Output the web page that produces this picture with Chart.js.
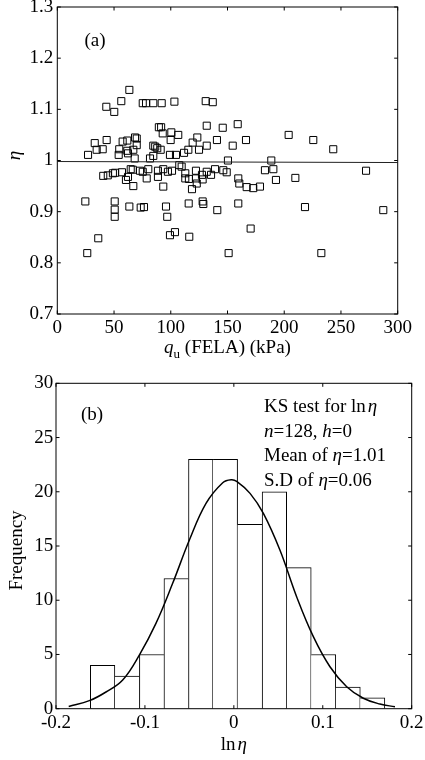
<!DOCTYPE html>
<html><head><meta charset="utf-8">
<script src="https://cdn.jsdelivr.net/npm/chart.js@4.4.1/dist/chart.umd.min.js"></script>
<style>
html,body{margin:0;padding:0;background:#fff;}
body{width:425px;height:760px;position:relative;overflow:hidden;font-family:"Liberation Serif","Times New Roman",serif;color:#000;}
canvas{position:absolute;left:0;}
#c1{top:0;} #c2{top:370px;}
.t{position:absolute;font-size:19px;line-height:19px;white-space:nowrap;}
.ks{position:absolute;left:264px;top:394.3px;font-size:19px;line-height:24.5px;white-space:nowrap;}
.rot{position:absolute;font-size:19px;line-height:19px;height:19px;text-align:center;white-space:nowrap;transform:rotate(-90deg);}
sub{font-size:13px;line-height:0;vertical-align:-5px;}
</style>
</head><body>
<canvas id="c1" width="425" height="370"></canvas>
<canvas id="c2" width="425" height="390"></canvas>

<div class="t" style="left:84.5px;top:29.6px;">(a)</div>
<div class="t" style="left:57.3px;width:340.4px;top:336.7px;text-align:center;"><i>q</i><sub>u</sub> (FELA) (kPa)</div>
<div class="rot" style="left:2.5px;width:20px;top:145.5px;"><i>η</i></div>

<div class="t" style="left:81px;top:404px;">(b)</div>
<div class="ks">KS test for ln<span style="margin-left:2px"><i>η</i></span><br><i>n</i>=128, <i>h</i>=0<br>Mean of <i>η</i>=1.01<br>S.D of <i>η</i>=0.06</div>
<div class="t" style="left:56px;width:355.7px;top:734px;text-align:center;">ln<span style="margin-left:2px"><i>η</i></span></div>
<div class="rot" style="left:-35.4px;width:100px;top:540.5px;">Frequency</div>

<script>
// ---- Panel (a): scatter data ----
const qu = [43.2,50.2,56.4,63.5,75.3,78.2,84.6,92.0,103.2,130.8,137.0,
  89.5,91.5,131.7,145.8,159.0,92.9,100.5,106.6,203.9,225.6,243.2,166.3,140.7,123.4,99.9,68.5,70.0,61.7,57.6,43.5,33.0,34.7,40.0,27.1,54.6,54.1,61.7,70.0,67.0,62.3,68.2,84.6,88.1,91.1,84.6,81.7,99.3,104.6,111.7,115.5,119.3,124.9,131.7,154.6,150.4,188.6,86.3,
  40.5,44.5,49.0,51.0,60.5,62.3,64.7,66.5,67.0,72.9,75.3,78.8,80.2,88.7,88.7,93.4,93.4,101.1,107.5,109.6,112.8,112.8,116.0,118.7,122.2,122.2,122.9,127.5,128.1,131.7,139.0,146.3,149.3,159.5,160.4,166.9,172.7,178.6,183.0,190.4,192.7,209.8,272.1,287.3,
  24.7,50.6,50.6,50.6,63.5,73.5,76.4,95.8,96.9,115.8,128.1,128.7,141.0,159.5,218.3,170.4,99.3,103.7,116.3,36.1,26.4,151.0,232.7,
  57.0,97.5,135.5];
const eta = [1.105,1.095,1.116,1.138,1.112,1.112,1.112,1.112,1.115,1.116,1.114,
  1.065,1.065,1.068,1.064,1.071,1.053,1.055,1.050,1.050,1.040,1.022,1.040,1.040,1.045,1.040,1.045,1.043,1.039,1.037,1.040,1.034,1.021,1.022,1.011,1.022,1.011,1.019,1.030,1.021,1.014,1.004,1.029,1.024,1.021,1.009,1.004,1.011,1.011,1.015,1.021,1.035,1.021,1.029,1.029,1.000,1.000,1.027,
  0.970,0.971,0.975,0.976,0.962,0.968,0.983,0.982,0.950,0.980,0.978,0.965,0.983,0.980,0.968,0.983,0.949,0.980,0.991,0.988,0.975,0.965,0.964,0.944,0.980,0.965,0.955,0.972,0.963,0.978,0.983,0.981,0.977,0.965,0.955,0.948,0.946,0.949,0.981,0.983,0.962,0.966,0.980,0.903,
  0.920,0.920,0.904,0.890,0.910,0.908,0.909,0.910,0.890,0.916,0.920,0.915,0.903,0.916,0.909,0.867,0.854,0.860,0.851,0.848,0.819,0.819,0.819,
  0.977,0.978,0.972];
const refLineX = [0, 300];
const refLineY = [0.998, 0.996];
const quTicks = [0,50,100,150,200,250,300];
const etaTicks = [0.7,0.8,0.9,1,1.1,1.2,1.3];

// ---- Panel (b): histogram data ----
const binCenters = [-0.1476,-0.1200,-0.0924,-0.0648,-0.0372,-0.0096,0.0180,0.0456,0.0732,0.1008,0.1284,0.1560];
const counts = [4,3,5,12,23,23,17,20,13,5,2,1];
const curveX = [-0.1857,-0.1625,-0.1438,-0.125,-0.1063,-0.0876,-0.0688,-0.050,-0.0313,-0.0125,-0.003,0.0032,0.0182,0.0332,0.0519,0.0707,0.0894,0.1081,0.1269,0.1456,0.1643,0.1812];
const curveY = [0.2,0.74,1.54,2.65,4.95,7.87,11.56,15.55,18.93,20.83,21.1,20.95,19.85,18.0,14.6,10.3,6.64,3.87,2.03,0.96,0.43,0.18];
const lnTicks = [-0.2,-0.1,0,0.1,0.2];
const freqTicks = [0,5,10,15,20,25,30];

Chart.defaults.font.family = '"Liberation Serif","Times New Roman",serif';
Chart.defaults.font.size = 19;
Chart.defaults.color = '#000';
Chart.defaults.animation = false;

const framePlugin = {
  id: 'frame',
  afterDatasetsDraw(chart) {
    const {ctx, chartArea: a, scales} = chart;
    const L = 3.5;
    ctx.save();
    ctx.strokeStyle = '#000';
    ctx.lineWidth = 1;
    ctx.strokeRect(a.left, a.top, a.right - a.left, a.bottom - a.top);
    ctx.beginPath();
    scales.x.ticks.forEach(t => {
      const p = scales.x.getPixelForValue(t.value);
      ctx.moveTo(p, a.bottom); ctx.lineTo(p, a.bottom - L);
      ctx.moveTo(p, a.top); ctx.lineTo(p, a.top + L);
    });
    scales.y.ticks.forEach(t => {
      const p = scales.y.getPixelForValue(t.value);
      ctx.moveTo(a.left, p); ctx.lineTo(a.left + L, p);
      ctx.moveTo(a.right, p); ctx.lineTo(a.right - L, p);
    });
    ctx.stroke();
    ctx.restore();
  }
};

function xScale(min, max, tickVals, h, pad) {
  return {
    type: 'linear', min, max, offset: false,
    grid: {display: false, drawTicks: false}, border: {display: false},
    afterBuildTicks: s => { s.ticks = tickVals.map(v => ({value: v})); },
    ticks: {padding: pad, maxRotation: 0, autoSkip: false, callback: v => String(v)},
    afterFit: s => { s.height = h; s.paddingLeft = 0; s.paddingRight = 0; }
  };
}
function yScale(min, max, tickVals, w, pad) {
  return {
    type: 'linear', min, max,
    grid: {display: false, drawTicks: false}, border: {display: false},
    afterBuildTicks: s => { s.ticks = tickVals.map(v => ({value: v})); },
    ticks: {padding: pad, autoSkip: false, callback: v => String(v)},
    afterFit: s => { s.width = w; s.paddingTop = 0; s.paddingBottom = 0; }
  };
}

new Chart(document.getElementById('c1'), {
  type: 'scatter',
  data: {
    datasets: [
      {
        type: 'line',
        data: refLineX.map((x, i) => ({x, y: refLineY[i]})),
        borderColor: '#222', borderWidth: 1, pointRadius: 0, fill: false, order: 0
      },
      {
        data: qu.map((x, i) => ({x, y: eta[i]})),
        pointStyle: 'rect', pointRadius: 5, borderWidth: 1,
        borderColor: '#000', backgroundColor: 'rgba(0,0,0,0)', order: 1
      }
    ]
  },
  options: {
    responsive: false,
    layout: {padding: {left: 0, top: 7, right: 27.3, bottom: 0}},
    plugins: {legend: {display: false}, tooltip: {enabled: false}},
    scales: {
      x: xScale(0, 300, quTicks, 56, 3),
      y: yScale(0.7, 1.3, etaTicks, 57.3, 4)
    }
  },
  plugins: [framePlugin]
});

new Chart(document.getElementById('c2'), {
  type: 'bar',
  data: {
    datasets: [
      {
        type: 'line',
        data: curveX.map((x, i) => ({x, y: curveY[i]})),
        borderColor: '#000', borderWidth: 1.5, pointRadius: 0, tension: 0.4, fill: false, order: 0
      },
      {
        type: 'bar',
        data: binCenters.map((x, i) => ({x, y: counts[i]})),
        backgroundColor: '#fff', borderColor: '#000',
        borderSkipped: false,
        borderWidth: c => {
          const i = c.dataIndex;
          const prev = i > 0 ? counts[i - 1] : -1;
          const next = i < counts.length - 1 ? counts[i + 1] : -1;
          return {top: 1, bottom: 0, left: counts[i] > prev ? 1 : 0, right: counts[i] >= next ? 1 : 0};
        },
        barPercentage: 1, categoryPercentage: 1, order: 1
      }
    ]
  },
  options: {
    responsive: false,
    layout: {padding: {left: 0, top: 13.3, right: 13.3, bottom: 0}},
    plugins: {legend: {display: false}, tooltip: {enabled: false}},
    scales: {
      x: xScale(-0.2, 0.2, lnTicks, 51.3, 2.5),
      y: yScale(0, 30, freqTicks, 56, 2.7)
    }
  },
  plugins: [framePlugin]
});
</script>
</body></html>
